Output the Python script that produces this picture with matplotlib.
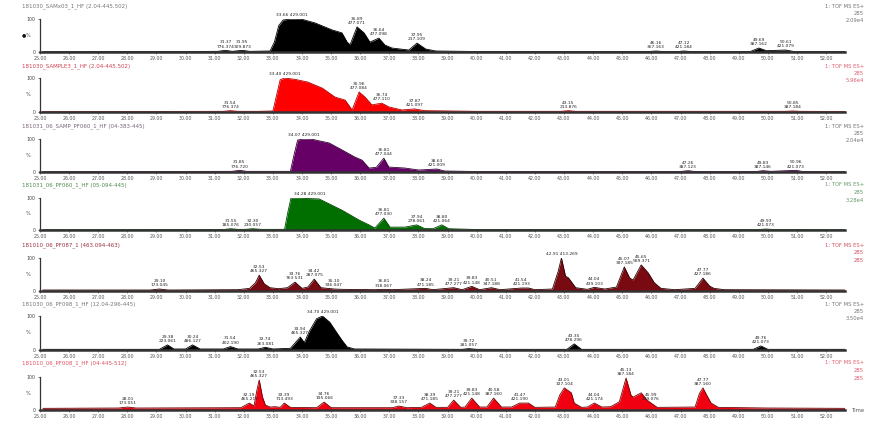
import matplotlib.pyplot as plt

W, H = 877, 422

tick_minutes = list(range(25, 53))

titles = [
    "181030_SAMx03_1_HF (2.04-445.502)",
    "181030_SAMPLE3_1_HF (2.04-445.502)",
    "181031_06_SAMP_PF060_1_HF (04-383-445)",
    "181031_06_PF060_1_HF (05-094-445)",
    "181010_06_PF087_1 (463.094-463)",
    "181030_06_PF098_1_HF (12.04-296-445)",
    "181010_06_PF008_1_HF (04-445-512)",
]

right_texts = [
    ("1: TOF MS ES+", "285", "2.09e4"),
    ("1: TOF MS ES+", "285", "5.96e4"),
    ("1: TOF MS ES+", "285", "2.04e4"),
    ("1: TOF MS ES+", "285", "3.28e4"),
    ("1: TOF MS ES+", "285", "285"),
    ("1: TOF MS ES+", "285", "3.50e4"),
    ("1: TOF MS ES+", "285", "285"),
]

trace1 = [(25.1, 1), (30.0, 1.5), (31.1, 2), (31.37, 5), (31.6, 2), (31.95, 5), (32.2, 2),
          (32.9, 3), (33.05, 30), (33.2, 80), (33.35, 97), (33.66, 100), (34.0, 99), (34.45, 88),
          (35.03, 67), (35.37, 58), (35.55, 30), (35.65, 22), (35.89, 76), (36.13, 58), (36.33, 30),
          (36.64, 42), (36.85, 21), (37.09, 12), (37.67, 6), (37.95, 27), (38.25, 9), (38.6, 3),
          (40.0, 1.5), (45.9, 1.5), (46.16, 3), (46.4, 1.5), (46.9, 1.5), (47.12, 3), (47.35, 1.5),
          (49.4, 1.5), (49.69, 12), (49.95, 4), (50.61, 6), (50.9, 1.5), (52.65, 1.5)]

trace2 = [(25.1, 1), (31.3, 2), (31.54, 4), (31.8, 2), (32.5, 2), (33.0, 3), (33.1, 40),
          (33.25, 95), (33.4, 100), (33.76, 96), (34.2, 88), (34.7, 70), (35.13, 44), (35.48, 35),
          (35.72, 6), (35.96, 59), (36.16, 44), (36.4, 21), (36.74, 26), (36.98, 15), (37.43, 6),
          (37.87, 9), (38.2, 4), (40.0, 2), (42.9, 2), (43.15, 4), (43.4, 2), (50.6, 2),
          (50.85, 3), (51.1, 2), (52.65, 1.5)]

trace3 = [(25.1, 1), (31.6, 2), (31.85, 5), (32.1, 2), (33.6, 2), (33.72, 50), (33.85, 97),
          (34.07, 100), (34.35, 99), (34.93, 88), (35.37, 67), (35.82, 45), (36.06, 36), (36.3, 12),
          (36.55, 14), (36.81, 42), (36.98, 15), (37.53, 12), (38.01, 6), (38.63, 9), (38.9, 3),
          (40.0, 1.5), (47.0, 1.5), (47.26, 4), (47.5, 1.5), (49.6, 1.5), (49.83, 4), (50.1, 2),
          (50.96, 5), (51.2, 1.5), (52.65, 1)]

trace4 = [(25.1, 1), (31.3, 1.5), (31.55, 4), (31.8, 2), (32.05, 2), (32.3, 4), (32.6, 2),
          (33.4, 2), (33.5, 50), (33.62, 100), (34.0, 99), (34.59, 97), (35.37, 62), (35.96, 31),
          (36.3, 16), (36.5, 6), (36.81, 37), (37.02, 9), (37.53, 9), (37.94, 16), (38.2, 5),
          (38.5, 4), (38.8, 16), (39.04, 4), (40.0, 1.5), (49.7, 1.5), (49.93, 3), (50.2, 1.5),
          (52.65, 1)]

trace5 = [(25.1, 3), (28.8, 3), (29.1, 6), (29.4, 3), (31.8, 4), (32.2, 8), (32.4, 25),
          (32.53, 48), (32.7, 22), (32.9, 10), (33.2, 7), (33.5, 10), (33.76, 27), (34.0, 8),
          (34.2, 12), (34.42, 36), (34.65, 10), (35.1, 6), (35.4, 5), (36.5, 4), (36.81, 5),
          (37.1, 4), (38.24, 8), (38.5, 4), (39.21, 10), (39.5, 4), (39.83, 14), (40.1, 4),
          (40.51, 10), (40.8, 4), (41.54, 9), (41.78, 9), (42.0, 4), (42.6, 6), (42.8, 60),
          (42.91, 100), (43.05, 45), (43.15, 40), (43.4, 10), (43.8, 5), (44.04, 11), (44.4, 6),
          (44.8, 12), (45.07, 73), (45.25, 40), (45.37, 33), (45.65, 79), (45.89, 55), (46.1, 25),
          (46.33, 8), (46.8, 4), (47.5, 8), (47.77, 39), (48.0, 15), (48.15, 8), (48.5, 4),
          (52.65, 3)]

trace6 = [(25.1, 2), (29.1, 2), (29.38, 15), (29.6, 3), (30.0, 3), (30.24, 15), (30.5, 3),
          (31.3, 3), (31.54, 10), (31.8, 3), (32.5, 3), (32.74, 8), (33.0, 3), (33.6, 5),
          (33.94, 38), (34.08, 22), (34.25, 55), (34.5, 92), (34.7, 100), (34.95, 82), (35.13, 59),
          (35.37, 29), (35.55, 9), (35.8, 3), (39.5, 2), (39.72, 4), (40.0, 2), (43.1, 2),
          (43.35, 18), (43.6, 2), (49.5, 2), (49.76, 12), (50.0, 2), (52.65, 2)]

trace7 = [(25.1, 5), (27.7, 6), (28.01, 9), (28.3, 6), (31.9, 7), (32.19, 21), (32.35, 12),
          (32.45, 60), (32.53, 91), (32.64, 40), (32.74, 15), (32.9, 9), (33.08, 10), (33.25, 8),
          (33.39, 21), (33.6, 8), (34.5, 7), (34.76, 24), (35.0, 7), (37.1, 7), (37.33, 12),
          (37.6, 7), (38.1, 8), (38.39, 21), (38.6, 8), (39.0, 8), (39.21, 30), (39.45, 8),
          (39.6, 9), (39.83, 36), (40.1, 9), (40.35, 9), (40.58, 36), (40.85, 9), (41.2, 9),
          (41.47, 21), (41.78, 21), (42.0, 8), (42.7, 9), (42.85, 45), (43.01, 67), (43.25, 52),
          (43.35, 21), (43.6, 8), (43.8, 9), (44.04, 21), (44.3, 9), (44.6, 10), (44.9, 25),
          (45.13, 97), (45.3, 45), (45.37, 39), (45.65, 52), (45.85, 30), (45.99, 21), (46.2, 8),
          (47.5, 9), (47.65, 50), (47.77, 67), (47.9, 45), (48.05, 21), (48.3, 8), (50.0, 6),
          (52.65, 5)]

peaks1 = [("31.37", "776.374", 5), ("31.95", "309.873", 5), ("33.66", "429.001", 100),
          ("35.89", "477.071", 76), ("36.64", "477.098", 42), ("37.95", "217.109", 27),
          ("46.16", "367.163", 3), ("47.12", "421.184", 3), ("49.69", "387.162", 12),
          ("50.61", "421.079", 6)]
peaks2 = [("31.54", "776.374", 4), ("33.40", "429.001", 100), ("35.96", "477.084", 59),
          ("36.74", "477.110", 26), ("37.87", "421.097", 9), ("43.15", "213.876", 4),
          ("50.85", "387.184", 3)]
peaks3 = [("31.85", "776.720", 5), ("34.07", "429.001", 100), ("36.81", "477.044", 42),
          ("38.63", "421.009", 9), ("47.26", "387.123", 4), ("49.83", "387.146", 4),
          ("50.96", "421.073", 5)]
peaks4 = [("31.55", "185.076", 4), ("32.30", "230.057", 4), ("34.28", "429.001", 100),
          ("36.81", "477.030", 37), ("37.94", "278.061", 16), ("38.80", "421.064", 16),
          ("49.93", "421.073", 3)]
peaks5 = [("29.10", "173.045", 6), ("32.53", "465.327", 48), ("33.76", "763.531", 27),
          ("34.42", "287.075", 36), ("35.10", "336.047", 6), ("36.81", "318.067", 5),
          ("38.24", "471.185", 8), ("39.21", "477.277", 10), ("39.83", "421.148", 14),
          ("40.51", "347.188", 10), ("41.54", "421.193", 9), ("42.91", "413.269", 100),
          ("44.04", "439.103", 11), ("45.07", "397.185", 73), ("45.65", "589.371", 79),
          ("47.77", "427.186", 39)]
peaks6 = [("29.38", "223.061", 15), ("30.24", "486.127", 15), ("31.54", "402.190", 10),
          ("32.74", "263.081", 8), ("33.94", "465.327", 38), ("34.70", "429.001", 100),
          ("39.72", "281.057", 4), ("43.35", "478.296", 18), ("49.76", "421.073", 12)]
peaks7 = [("28.01", "173.051", 9), ("32.19", "465.217", 21), ("32.53", "465.327", 91),
          ("33.39", "713.493", 21), ("34.76", "195.066", 24), ("37.33", "338.157", 12),
          ("38.39", "471.185", 21), ("39.21", "477.277", 30), ("39.83", "421.148", 36),
          ("40.58", "387.160", 36), ("41.47", "421.190", 21), ("43.01", "327.104", 67),
          ("44.04", "421.174", 21), ("45.13", "387.184", 97), ("45.99", "239.076", 21),
          ("47.77", "387.160", 67)]

traces = [trace1, trace2, trace3, trace4, trace5, trace6, trace7]
peaks = [peaks1, peaks2, peaks3, peaks4, peaks5, peaks6, peaks7]

fills = ["#000000", "#ff0000", "#660066", "#006f00", "#7a0a12", "#000000", "#f00010"]
edges = ["#000000", "#b00000", "#330033", "#004400", "#2a0000", "#000000", "#700000"]
title_colors = ["#777777", "#d04050", "#776677", "#4f8a4f", "#9a3040", "#777777", "#e05060"]
right_colors = ["#777777", "#e06070", "#777777", "#66996a", "#d05060", "#777777", "#e06070"]

# pixel layout of each panel: baseline row, 100% row, title row
baselines = [52, 112, 172, 230, 291, 350, 410]
tops = [19, 78, 139, 198, 258, 316, 377]
title_rows = [6, 66, 126, 185, 245, 304, 363]
x_left, x_right = 40, 845
t_min, t_max = 25.1, 52.65

fig = plt.figure(figsize=(W / 100, H / 100), dpi=100)

for i in range(7):
    b, t = baselines[i], tops[i]
    ax = fig.add_axes([x_left / W, 1 - b / H, (x_right - x_left) / W, (b - t) / H])
    ax.set_xlim(t_min, t_max)
    ax.set_ylim(0, 100)

    times = [p[0] for p in traces[i]]
    vals = [p[1] for p in traces[i]]
    ax.fill_between(times, 0, vals, color=fills[i], lw=0)
    ax.plot(times, vals, color=edges[i], lw=0.6)

    for rt, mz, h in peaks[i]:
        # the tallest peak gets a one-line label, the rest two lines
        label = f"{rt} {mz}" if h >= 100 else f"{rt}\n{mz}"
        ax.annotate(label, xy=(float(rt), h), xytext=(0, 1.2), textcoords="offset points",
                    ha="center", va="bottom", fontsize=3.2, linespacing=1.15,
                    color="#222222", annotation_clip=False)

    for s in ("top", "right"):
        ax.spines[s].set_visible(False)
    ax.spines["bottom"].set_linewidth(1.8)
    ax.spines["bottom"].set_color("#333333")
    ax.spines["left"].set_linewidth(0.9)
    ax.spines["left"].set_color("#333333")

    ax.set_xticks(tick_minutes)
    ax.set_xticklabels([f"{m:.2f}" for m in tick_minutes])
    ax.set_yticks([0, 100])
    ax.set_yticklabels(["0", "100"])
    ax.tick_params(axis="x", length=1.5, width=0.5, pad=1.2, labelsize=3.4,
                   labelcolor="#555555", color="#555555")
    ax.tick_params(axis="y", length=1.5, width=0.5, pad=1.5, labelsize=3.4,
                   labelcolor="#444444", color="#444444")
    ax.text(-0.012, 0.5, "%", transform=ax.transAxes, ha="right", va="center",
            fontsize=3.6, color="#444444")

    ty = title_rows[i]
    fig.text(22 / W, 1 - ty / H, titles[i], fontsize=4, color=title_colors[i], va="center")
    for k, line in enumerate(right_texts[i]):
        fig.text(864 / W, 1 - (ty + 7.5 * k) / H, line, fontsize=3.8,
                 color=right_colors[i], ha="right", va="center")

fig.text(22 / W, 1 - 35 / H, "\u25cf", fontsize=3.5, color="#111111", va="center")
fig.text(852 / W, 1 - 411 / H, "Time", fontsize=3.8, color="#555555", va="center")

fig.savefig("out.png", dpi=100)
